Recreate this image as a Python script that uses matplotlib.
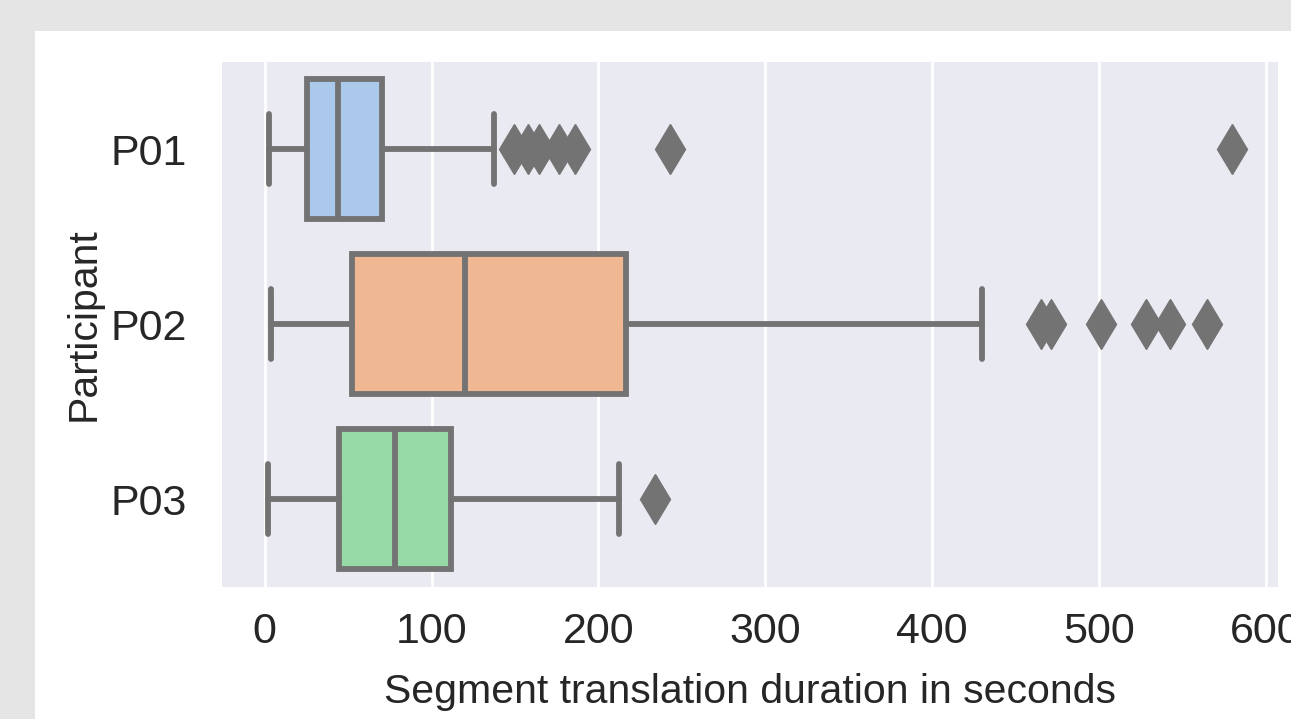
import numpy as np
import matplotlib.pyplot as plt
import seaborn as sns
from matplotlib.patches import Rectangle

# values (seconds)
participants = ["P01", "P02", "P03"]
whis_low = [2.7, 3.9, 2.1]
q1 = [25.3, 52.3, 44.5]
median = [43.7, 120.3, 78.1]
q3 = [70.3, 216.7, 111.9]
whis_high = [137.3, 429.8, 212.2]
fliers_p01 = [149.7, 157.7, 164.3, 176.7, 186.3, 242.7, 579.8]
fliers_p02 = [465.2, 471.2, 501.2, 528.6, 542.6, 565.2]
fliers_p03 = [233.7]
fliers = [fliers_p01, fliers_p02, fliers_p03]

sns.set_theme(style="darkgrid")
plt.rcParams['font.family'] = ['Liberation Sans', 'DejaVu Sans']

pal = [sns.desaturate(c, 0.75) for c in sns.color_palette("pastel")[:3]]
line_col = "#737373"

fig = plt.figure(figsize=(12.91, 7.19), dpi=100, facecolor="#e5e5e5")
fig.patches.append(Rectangle((35 / 1291, 0), 1, 1 - 31 / 719, transform=fig.transFigure,
                             facecolor="white", edgecolor="none", zorder=-10))

ax = fig.add_axes([221.7 / 1291, 1 - 586.7 / 719, (1277.7 - 221.7) / 1291, (586.7 - 61.7) / 719])
ax.set_facecolor("#eaeaf2")
ax.grid(True, axis="x", color="white", linewidth=2)
ax.grid(False, axis="y")
for s in ax.spines.values():
    s.set_visible(False)

stats = []
for i in range(len(participants)):
    stats.append(dict(med=median[i], q1=q1[i], q3=q3[i], whislo=whis_low[i],
                      whishi=whis_high[i], fliers=fliers[i], label=participants[i]))

bp = ax.bxp(stats, positions=np.arange(len(participants)), widths=0.8, capwidths=0.4,
            orientation="horizontal", patch_artist=True,
            boxprops=dict(edgecolor=line_col, linewidth=4.2),
            medianprops=dict(color=line_col, linewidth=4.2),
            whiskerprops=dict(color=line_col, linewidth=4.2, solid_capstyle="round"),
            capprops=dict(color=line_col, linewidth=4.2, solid_capstyle="round"),
            flierprops=dict(marker="d", markersize=25, markerfacecolor=line_col,
                            markeredgecolor=line_col, markeredgewidth=1))
for patch, c in zip(bp["boxes"], pal):
    patch.set_facecolor(c)

ax.set_xlim(-25.8, 607.3)
ax.set_ylim(2.5, -0.5)
ax.set_xticks([0, 100, 200, 300, 400, 500, 600])
ax.tick_params(axis="both", length=0, labelsize=31, labelcolor="#262626")
ax.tick_params(axis="x", pad=18)
ax.tick_params(axis="y", pad=25)
ax.set_xlabel("Segment translation duration in seconds", fontsize=29.5, color="#262626", labelpad=15)
ax.set_ylabel("Participant", fontsize=29.5, color="#262626", labelpad=6)

fig.savefig("out.png", dpi=100, facecolor=fig.get_facecolor())
